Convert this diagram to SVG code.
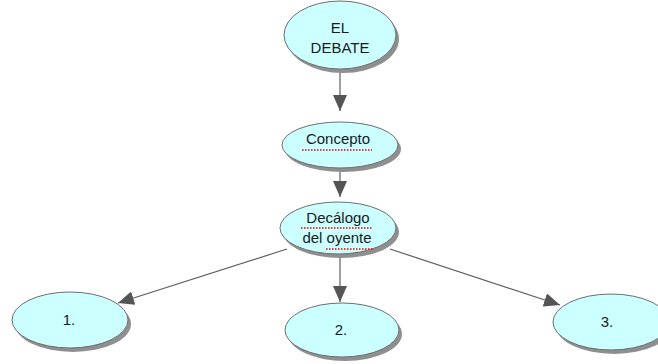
<svg xmlns="http://www.w3.org/2000/svg" width="658" height="364" viewBox="0 0 658 364">
<defs>
<style>
.sh{fill:#8f8f8f;}
.nd{fill:#ccffff;stroke:#6e6e6e;stroke-width:1;}
.tx{font-family:"Liberation Sans",Arial,sans-serif;font-size:15px;fill:#1a1a1a;text-anchor:middle;}
.ln{stroke:#5e5e5e;stroke-width:1.2;fill:none;}
.sp{stroke:#e00000;stroke-width:1.5;stroke-dasharray:1.5 1.5;fill:none;}
</style>
<marker id="ah" markerWidth="16" markerHeight="14" refX="16" refY="7" orient="auto" markerUnits="userSpaceOnUse">
<path d="M0,0 L16,7 L0,14 Z" fill="#555555"/>
</marker>
</defs>
<rect width="658" height="364" fill="#ffffff"/>
<g id="connectors">
<line class="ln" x1="340" y1="70" x2="340" y2="111" marker-end="url(#ah)"/>
<line class="ln" x1="340" y1="168" x2="340" y2="197" marker-end="url(#ah)"/>
<line class="ln" x1="287" y1="249" x2="118" y2="303" marker-end="url(#ah)"/>
<line class="ln" x1="340" y1="254" x2="340" y2="302" marker-end="url(#ah)"/>
<line class="ln" x1="390" y1="249" x2="560" y2="305" marker-end="url(#ah)"/>
</g>
<g id="n-debate">
<ellipse class="sh" cx="343" cy="39" rx="56" ry="34"/>
<ellipse class="nd" cx="340" cy="35" rx="56" ry="34"/>
<text class="tx" x="340" y="33">EL</text>
<text class="tx" x="340" y="53">DEBATE</text>
</g>
<g id="n-concepto">
<ellipse class="sh" cx="343" cy="149" rx="58" ry="23"/>
<ellipse class="nd" cx="340" cy="145" rx="58" ry="23"/>
<text class="tx" x="338" y="144">Concepto</text>
<line class="sp" x1="302" y1="150" x2="372" y2="150"/>
</g>
<g id="n-decalogo">
<ellipse class="sh" cx="341" cy="232" rx="58" ry="26"/>
<ellipse class="nd" cx="338" cy="228" rx="58" ry="26"/>
<text class="tx" x="338" y="223">Decálogo</text>
<line class="sp" x1="301" y1="228" x2="373" y2="228"/>
<text class="tx" x="337" y="243">del oyente</text>
<line class="sp" x1="326" y1="249" x2="373" y2="249"/>
</g>
<g id="n-1">
<ellipse class="sh" cx="73" cy="324" rx="58" ry="28"/>
<ellipse class="nd" cx="70" cy="320" rx="58" ry="28"/>
<text class="tx" x="69" y="325">1.</text>
</g>
<g id="n-2">
<ellipse class="sh" cx="345" cy="334" rx="57" ry="27"/>
<ellipse class="nd" cx="342" cy="330" rx="57" ry="27"/>
<text class="tx" x="341" y="335">2.</text>
</g>
<g id="n-3">
<ellipse class="sh" cx="614" cy="326" rx="58" ry="28"/>
<ellipse class="nd" cx="611" cy="322" rx="58" ry="28"/>
<text class="tx" x="607" y="327">3.</text>
</g>
</svg>
